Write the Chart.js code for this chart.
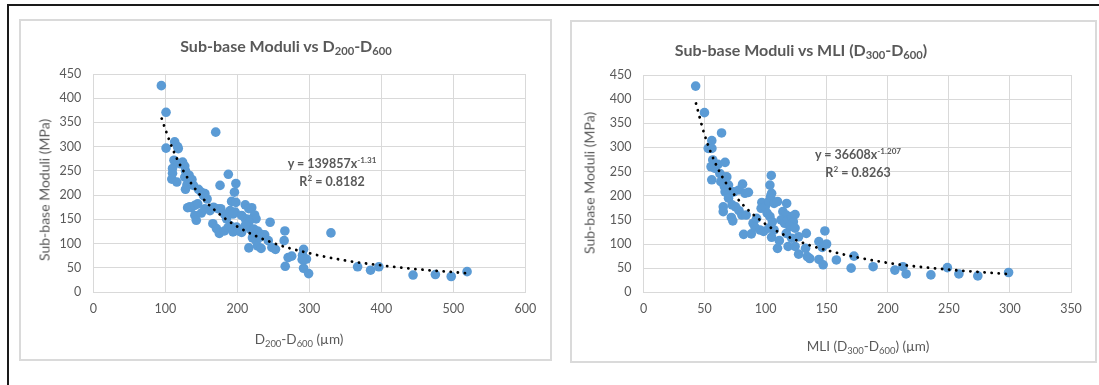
<!DOCTYPE html>
<html>
<head>
<meta charset="utf-8">
<script src="https://cdn.jsdelivr.net/npm/chart.js@4.4.1/dist/chart.umd.min.js"></script>
<style>
  body { margin: 0; background: #fff; width: 1099px; height: 385px; overflow: hidden; position: relative;
         font-family: Lato, "Open Sans", sans-serif; color: #595959; }
  .frame { position: absolute; left: 7px; top: 4px; width: 1200px; height: 500px;
           border-top: 2px solid #1a1a1a; border-left: 2px solid #1a1a1a; }
  .panel { position: absolute; box-sizing: border-box; border: 2px solid #dadada; background: #fff; }
  .panel canvas { position: absolute; left: 0; top: 0; }
  .t { position: absolute; white-space: nowrap; transform: translate(-50%, -50%); }
  .title { font-size: 16px; font-weight: bold; }
  .axt { font-size: 13.5px; }
  .yt { font-size: 14px; }
  .eq { font-size: 12.5px; font-weight: bold; line-height: 18px; text-align: center; }
  .rot { transform: translate(-50%, -50%) rotate(-90deg); }
  sub { font-size: 70%; vertical-align: -3px; line-height: 0; }
  sup { font-size: 65%; vertical-align: 5px; line-height: 0; }
</style>
</head>
<body>
<div class="frame"></div>
<div class="panel" style="left:19px;top:19px;width:533px;height:342px">
  <canvas id="left" width="529" height="338"></canvas>
</div>
<div class="panel" style="left:570px;top:20px;width:527px;height:343px">
  <canvas id="right" width="523" height="339"></canvas>
</div>

<div class="t title" style="left:286px;top:45px">Sub-base Moduli vs D<sub>200</sub>-D<sub>600</sub></div>
<div class="t axt" style="left:299px;top:339px">D<sub>200</sub>-D<sub>600</sub> (µm)</div>
<div class="t yt rot" style="left:44px;top:190px">Sub-base Moduli (MPa)</div>
<div class="t eq" style="left:332px;top:173px">y = 139857x<sup>-1.31</sup><br>R<sup>2</sup> = 0.8182</div>

<div class="t title" style="left:801px;top:49px">Sub-base Moduli vs MLI (D<sub>300</sub>-D<sub>600</sub>)</div>
<div class="t axt" style="left:868px;top:346px">MLI (D<sub>300</sub>-D<sub>600</sub>) (µm)</div>
<div class="t yt rot" style="left:589px;top:183px">Sub-base Moduli (MPa)</div>
<div class="t eq" style="left:858px;top:164px">y = 36608x<sup>-1.207</sup><br>R<sup>2</sup> = 0.8263</div>

<script>
// left chart: D200-D600 (µm) vs sub-base moduli (MPa)
const leftX = [94.5, 101, 101, 170, 113, 118, 117, 112, 110, 110, 109, 116, 124, 127, 120, 128, 127, 130, 128, 133,
  137, 139, 146, 150, 155, 158, 153, 134, 136, 131, 141, 145, 141, 143, 150, 155, 162, 167, 173, 177,
  182, 176, 187.5, 198, 196, 192, 198, 190, 197, 185, 194, 166, 171, 175, 182, 187, 190, 194, 199, 201.5,
  206, 211, 216, 220, 224, 226, 206, 211, 215, 216, 218, 211, 223, 228, 233, 238, 216, 228, 233, 221,
  226, 231, 243, 245.5, 248, 253, 266, 265, 266.5, 270.5, 275.5, 292, 290.5, 293, 296, 290, 292, 299, 330, 367,
  385, 396.5, 444, 475, 497, 519];
const leftY = [426, 371, 297, 330, 310, 296, 300, 272, 255, 245, 233, 227, 268, 260, 265, 250, 237, 221, 212, 241,
  232, 220, 212, 206, 203, 192, 199, 176, 174, 174, 179, 182, 158, 148, 163, 172, 168, 175, 172, 172,
  161, 220, 243, 224, 206, 187, 185, 168, 165, 151, 161, 141, 131, 121, 126, 133, 137, 124, 134, 126,
  123, 180, 172, 174, 159, 151, 158, 151, 150, 144, 130, 137, 130, 126, 119, 118, 91, 95, 90, 112,
  106, 113, 106, 144, 92, 88, 126, 106, 53, 71, 74, 88, 76, 67, 68, 67, 49, 38, 122, 52,
  45, 52, 35, 36, 32, 42];
const leftTrendX = [95, 100, 110, 125, 150, 175, 200, 250, 300, 350, 400, 450, 517];
const leftTrendY = [358, 336, 296, 250, 197, 161, 135, 101, 80, 65, 55, 47, 39];

// right chart: MLI (D300-D600) (µm) vs sub-base moduli (MPa)
const rightX = [42.7, 49.9, 63.9, 55.9, 53, 56, 56.7, 55.3, 58.2, 61, 66.8, 55.9, 62.5, 65.3, 68.2, 63.3, 66.2, 69.6, 66.8, 71,
  69.6, 74, 78.2, 81.1, 83.1, 85.9, 65.3, 65.3, 72.5, 75.4, 78.2, 71.9, 73.1, 80.5, 84, 82, 88.3, 89.7, 91.2, 92.6,
  95.4, 98.3, 96.9, 96.3, 99.7, 102.6, 104, 103.5, 104.6, 104.9, 106.9, 109.7, 101.2, 103.5, 105.5, 102.6, 106.9, 104.9, 111.2, 109.7,
  117.2, 114.1, 116.9, 112.6, 115.5, 118.4, 121.3, 124.1, 122.7, 119.8, 124.1, 116.9, 121.3, 127, 118.4, 124.1, 127, 133.3, 132.7, 134.1,
  136.1, 143.6, 146.4, 149.9, 148.5, 143.6, 147.1, 157.9, 170, 172.3, 188, 205.8, 212.4, 215, 235.3, 248.8, 258.2, 273.7, 298.9];
const rightY = [427, 372, 330, 314, 298, 298, 274, 260, 257, 265, 269, 233, 246, 239, 239, 229, 219, 222, 208, 205,
  195, 208, 212, 224, 205, 207, 177, 167, 181, 177, 169, 155, 148, 160, 160, 120, 121, 143, 135, 153,
  129, 126, 186, 174, 177, 188, 198, 222, 242, 205, 184, 188, 164, 157, 146, 133, 129, 114, 107, 91,
  184, 167, 160, 150, 143, 150, 157, 161, 146, 136, 133, 122, 112, 115, 95, 95, 79, 122, 91, 74,
  70, 105, 93, 100, 127, 68, 57, 67, 50, 75, 53, 46, 53, 38, 36, 51, 38, 34, 41];
const rightTrendX = [43, 50, 60, 75, 100, 125, 150, 200, 250, 298];
const rightTrendY = [391, 326, 261, 200, 141, 108, 87, 61, 47, 38];

const yMax = 450, yStep = 50;
const leftXMax = 600, leftXStep = 100;
const rightXMax = 350, rightXStep = 50;

const textColor = '#595959';
const gridColor = '#d9d9d9';
const blue = '#5b9bd5';

function pairs(xs, ys) {
  return xs.map((x, i) => ({ x: x, y: ys[i] }));
}

function makeChart(id, pts, trend, xMax, xStep, pad, yW, xH) {
  const ctx = document.getElementById(id).getContext('2d');
  return new Chart(ctx, {
    type: 'scatter',
    data: {
      datasets: [
        {
          data: trend,
          showLine: true,
          order: 0,
          pointRadius: 0,
          borderColor: '#000',
          borderWidth: 2.8,
          borderDash: [0.1, 7],
          borderCapStyle: 'round',
          cubicInterpolationMode: 'monotone',
          fill: false
        },
        {
          data: pts,
          order: 1,
          pointRadius: 4.8,
          pointBackgroundColor: blue,
          pointBorderColor: blue,
          pointBorderWidth: 0
        }
      ]
    },
    options: {
      responsive: false,
      animation: false,
      devicePixelRatio: 1,
      layout: { padding: pad },
      plugins: { legend: { display: false }, tooltip: { enabled: false } },
      scales: {
        x: {
          type: 'linear',
          min: 0,
          max: xMax,
          afterFit: s => { s.height = xH; },
          ticks: { stepSize: xStep, color: textColor, padding: 9, font: { family: 'Lato', size: 12.5 } },
          grid: { color: gridColor, drawTicks: false },
          border: { color: gridColor }
        },
        y: {
          min: 0,
          max: yMax,
          afterFit: s => { s.width = yW; },
          ticks: { stepSize: yStep, color: textColor, padding: 12, font: { family: 'Lato', size: 12.5 } },
          grid: { color: gridColor, drawTicks: false },
          border: { color: gridColor }
        }
      }
    }
  });
}

makeChart('left', pairs(leftX, leftY), pairs(leftTrendX, leftTrendY), leftXMax, leftXStep,
  { top: 53, right: 24.6, left: 0, bottom: 0 }, 72.3, 67);
makeChart('right', pairs(rightX, rightY), pairs(rightTrendX, rightTrendY), rightXMax, rightXStep,
  { top: 53, right: 24, left: 0, bottom: 0 }, 71.5, 68.7);
</script>
</body>
</html>
